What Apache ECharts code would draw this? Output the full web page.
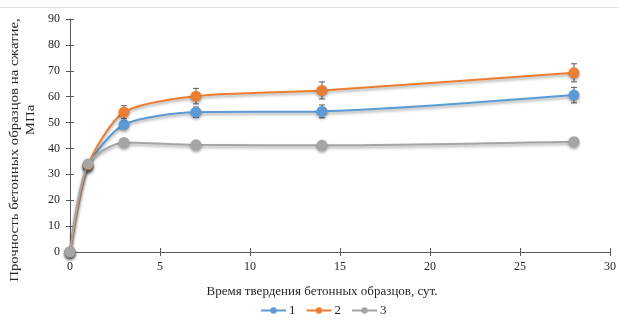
<!DOCTYPE html>
<html><head><meta charset="utf-8">
<script src="https://cdn.jsdelivr.net/npm/echarts@6/dist/echarts.min.js"></script>
<style>html,body{margin:0;padding:0;background:#fff}#c{width:619px;height:323px}</style>
</head><body><div id="c"></div>
<script>
const days = [0, 1, 3, 7, 14, 28];
const s1 = [0, 33, 49.2, 54, 54.3, 60.6];
const s2 = [0, 33.5, 54, 60.2, 62.4, 69.2];
const s3 = [0, 34, 42.3, 41.4, 41.2, 42.6];
const e1 = [0, 1, 1.5, 2, 2.5, 3];
const e2 = [0, 1, 2.5, 3, 3.3, 3.5];
const e3 = [0, 1, 1.5, 1.5, 1, 1.5];
const names = ['1', '2', '3'];
const colors = ['#5B9BD5', '#ED7D31', '#A5A5A5'];
const xTicks = [0, 5, 10, 15, 20, 25, 30];
const yTicks = [0, 10, 20, 30, 40, 50, 60, 70, 80, 90];
const font = 'Liberation Serif';
const txt = '#262626';

const chart = echarts.init(document.getElementById('c'));
const shadow = {shadowColor: 'rgba(0,0,0,0.35)', shadowBlur: 3, shadowOffsetY: 2};
function lineSeries(i, vals) {
  return {
    name: names[i], type: 'line', smooth: 0.25, z: 3 + i,
    data: days.map((d, k) => [d, vals[k]]),
    symbol: 'circle', symbolSize: 11,
    lineStyle: Object.assign({color: colors[i], width: 2}, shadow),
    itemStyle: Object.assign({color: colors[i]}, shadow),
    emphasis: {disabled: true}
  };
}
function errSeries(i, vals, errs) {
  return {
    type: 'custom', z: 2 + i, silent: true,
    data: days.map((d, k) => [d, vals[k], errs[k]]),
    renderItem: function (params, api) {
      const x = api.value(0), y = api.value(1), e = api.value(2);
      if (!e) return null;
      const top = api.coord([x, y + e]);
      const bot = api.coord([x, y - e]);
      const w = 3;
      return {type: 'group', children: [
        {type: 'line', shape: {x1: top[0], y1: top[1], x2: bot[0], y2: bot[1]}, style: {stroke: '#595959', lineWidth: 1}},
        {type: 'line', shape: {x1: top[0] - w, y1: top[1], x2: top[0] + w, y2: top[1]}, style: {stroke: '#595959', lineWidth: 1}},
        {type: 'line', shape: {x1: bot[0] - w, y1: bot[1], x2: bot[0] + w, y2: bot[1]}, style: {stroke: '#595959', lineWidth: 1}}
      ]};
    }
  };
}
const axisLine = {lineStyle: {color: '#595959', width: 1}};
chart.setOption({
  animation: false,
  backgroundColor: '#fff',
  grid: {left: 70, right: 6, top: 19, bottom: 71},
  xAxis: [{
    type: 'value', min: 0, max: 30, interval: 5,
    axisLine: Object.assign({onZero: false}, axisLine),
    axisTick: {show: true, length: 4, lineStyle: {color: '#595959'}},
    splitLine: {show: false},
    axisLabel: {color: txt, fontFamily: font, fontSize: 12, margin: 9},
    name: 'Время твердения бетонных образцов, сут.',
    nameLocation: 'middle', nameGap: 33,
    nameTextStyle: {color: txt, fontFamily: font, fontSize: 13, padding: [0, 36, 0, 0]}
  }, {
    type: 'value', min: 0, max: 30, interval: 5, position: 'bottom',
    axisLine: {show: false}, axisLabel: {show: false}, splitLine: {show: false},
    axisTick: {show: true, inside: true, length: 4, lineStyle: {color: '#595959'}}
  }],
  yAxis: [{
    type: 'value', min: 0, max: 90, interval: 10,
    axisLine: Object.assign({show: true, onZero: false}, axisLine),
    axisTick: {show: true, length: 4, lineStyle: {color: '#595959'}},
    splitLine: {show: false},
    axisLabel: {color: txt, fontFamily: font, fontSize: 12, margin: 10}
  }, {
    type: 'value', min: 0, max: 90, interval: 10, position: 'left',
    axisLine: {show: false}, axisLabel: {show: false}, splitLine: {show: false},
    axisTick: {show: true, inside: true, length: 4, lineStyle: {color: '#595959'}}
  }],
  legend: {
    data: names, top: 299, left: 255, itemWidth: 25, itemHeight: 8, itemGap: 10,
    textStyle: {color: txt, fontFamily: font, fontSize: 13, padding: [0, 0, 0, -2]}
  },
  graphic: [
    {type: 'line', shape: {x1: 0, y1: 7.5, x2: 619, y2: 7.5}, style: {stroke: '#e0e0e0', lineWidth: 1}},
    {type: 'text', x: 14, y: 150, rotation: Math.PI / 2, scaleX: 1.1,
      style: {text: 'Прочность бетонных образцов на сжатие,', font: '13.5px "Liberation Serif"', fill: txt, align: 'center', verticalAlign: 'middle'}},
    {type: 'text', x: 30, y: 120, rotation: Math.PI / 2, scaleX: 1.1,
      style: {text: 'МПа', font: '13.5px "Liberation Serif"', fill: txt, align: 'center', verticalAlign: 'middle'}}
  ],
  series: [
    errSeries(0, s1, e1), errSeries(1, s2, e2), errSeries(2, s3, e3),
    lineSeries(0, s1), lineSeries(1, s2), lineSeries(2, s3)
  ]
});
</script></body></html>
